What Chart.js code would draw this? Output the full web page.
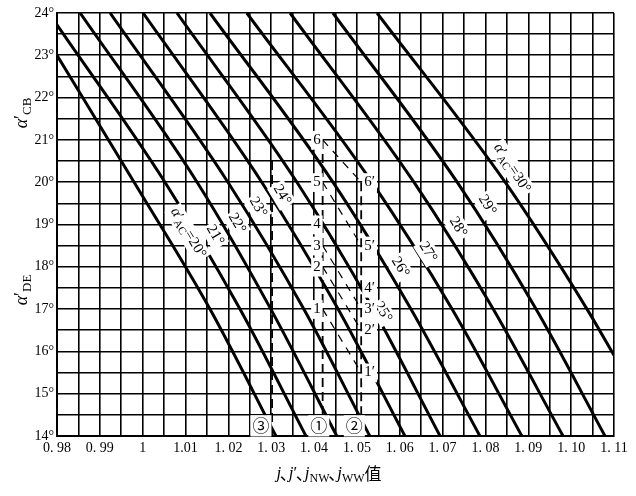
<!DOCTYPE html>
<html lang="zh">
<head>
<meta charset="UTF-8">
<title>α′CB, α′DE — j</title>
<script src="https://cdn.jsdelivr.net/npm/chart.js@4.4.0/dist/chart.umd.min.js"></script>
<style>
  html, body { margin: 0; padding: 0; background: #fff; }
</style>
</head>
<body>
<canvas id="chart" width="636" height="496"></canvas>
<script>
// ---- axes ----
const xTicks = [0.98, 0.99, 1.00, 1.01, 1.02, 1.03, 1.04, 1.05, 1.06, 1.07, 1.08, 1.09, 1.10, 1.11];
const xTickLabels = ['0. 98', '0. 99', '1', '1.01', '1. 02', '1. 03', '1. 04', '1. 05', '1. 06', '1. 07', '1. 08', '1. 09', '1. 10', '1. 11'];
const yTicks = [14, 15, 16, 17, 18, 19, 20, 21, 22, 23, 24];
const xGridStep = 0.005;
const yGridStep = 0.5;

// ---- alpha'AC curves, read at: entry (top / left edge), 20°, 17°, exit (bottom / right edge) ----
const alphaAC  = [20, 21, 22, 23, 24, 25, 26, 27, 28, 29, 30];
const startJ   = [0.98, 0.98, 0.9854, 0.9924, 1.0001, 1.0080, 1.0157, 1.0243, 1.0344, 1.0444, 1.0547];
const startDeg = [23.0, 23.72, 24, 24, 24, 24, 24, 24, 24, 24, 24];
const j20deg   = [0.9980, 1.0052, 1.0127, 1.0199, 1.0278, 1.0360, 1.0444, 1.0535, 1.0633, 1.0734, 1.0846];
const j17deg   = [1.0157, 1.0227, 1.0299, 1.0376, 1.0456, 1.0538, 1.0626, 1.0722, 1.0818, 1.0918, 1.1037];
const endJ     = [1.0311, 1.0381, 1.0453, 1.0530, 1.0612, 1.0694, 1.0787, 1.0885, 1.0981, 1.1079, 1.11];
const endDeg   = [14, 14, 14, 14, 14, 14, 14, 14, 14, 14, 15.91];
// where each curve's label sits
const labelJ   = [1.0106, 1.0169, 1.0220, 1.0269, 1.0325, 1.0561, 1.0601, 1.0666, 1.0736, 1.0804, 1.0862];
const labelDeg = [18.80, 18.75, 19.03, 19.41, 19.70, 16.93, 17.99, 18.35, 18.94, 19.46, 20.33];

// ---- worked cases (dashed) ----
const caseMarks = ['①', '②', '③'];
const caseJ     = [1.042, 1.051, 1.0302];
const caseTop   = [21, 20, 20.5];
const caseMarkJ = [1.0411, 1.0494, 1.0276];
const caseMarkDeg = 14.25;
// points 1..6 on case ①, 1'..6' on case ②
const pointNames  = ['1', '2', '3', '4', '5', '6'];
const pointsCase1 = [17, 18, 18.5, 19, 20, 21];
const pointsCase2 = [15.5, 16.5, 17, 17.5, 18.5, 20];

const SERIF = '"Liberation Serif", "DejaVu Serif", serif';
const CJK = '"Noto Sans CJK SC", sans-serif';

// grid positions every 0.005 / 0.5 degree
const xGrid = [];
for (let v = 0; v <= Math.round((1.11 - 0.98) / xGridStep); v++) xGrid.push(+(0.98 + v * xGridStep).toFixed(3));
const yGrid = [];
for (let v = 0; v <= (24 - 14) / yGridStep; v++) yGrid.push(14 + v * yGridStep);

// ---- datasets ----
const datasets = [];
alphaAC.forEach((a, i) => {
    datasets.push({
        label: "α'AC=" + a,
        data: [
            { x: startJ[i], y: startDeg[i] },
            { x: j20deg[i], y: 20 },
            { x: j17deg[i], y: 17 },
            { x: endJ[i], y: endDeg[i] }
        ],
        borderColor: '#000', borderWidth: 3, showLine: true, pointRadius: 0,
        cubicInterpolationMode: 'monotone'
    });
});
caseJ.forEach((j, i) => {
    datasets.push({
        label: 'case ' + caseMarks[i],
        data: [{ x: j, y: caseTop[i] }, { x: j, y: 14 }],
        borderColor: '#000', borderWidth: 1.8, borderDash: [9, 5], showLine: true, pointRadius: 0
    });
});
pointsCase1.forEach((d, i) => {
    datasets.push({
        label: 'link ' + pointNames[i],
        data: [{ x: caseJ[0], y: d }, { x: caseJ[1], y: pointsCase2[i] }],
        borderColor: '#000', borderWidth: 1.2, borderDash: [8, 7], showLine: true, pointRadius: 0
    });
});

// text made of parts: [text, style]  style: '' normal, 'i' italic, 's' subscript, 'c' CJK, 'p' narrow CJK comma
function fontFor(st, size) {
    if (st === 's') return Math.round(size * 0.72) + 'px ' + SERIF;
    if (st === 'i') return 'italic ' + size + 'px ' + SERIF;
    if (st === 'c' || st === 'p') return size + 'px ' + CJK;
    return size + 'px ' + SERIF;
}
function advance(ctx, t, st, size) {
    if (st === 'p') return size * 0.45;
    return ctx.measureText(t).width;
}
function richWidth(ctx, parts, size) {
    let w = 0;
    parts.forEach(([t, st]) => {
        ctx.font = fontFor(st, size);
        w += advance(ctx, t, st, size);
    });
    return w;
}
function drawRich(ctx, parts, x, y, size, align, bg) {
    const w = richWidth(ctx, parts, size);
    let cx = align === 'left' ? x : align === 'right' ? x - w : x - w / 2;
    if (bg) {
        ctx.fillStyle = '#fff';
        ctx.fillRect(cx - 2, y - size * 0.6, w + 4, size * 1.25);
    }
    ctx.fillStyle = '#000';
    ctx.textBaseline = 'middle';
    ctx.textAlign = 'left';
    parts.forEach(([t, st]) => {
        ctx.font = fontFor(st, size);
        const dy = st === 's' ? size * 0.3 : 0;
        const dx = st === 'p' ? -size * 0.08 : 0;
        ctx.fillText(t, cx + dx, y + dy);
        cx += advance(ctx, t, st, size);
    });
}

const labelPlugin = {
    id: 'labels',
    afterDatasetsDraw(chart) {
        const ctx = chart.ctx;
        const xs = chart.scales.x, ys = chart.scales.y;
        ctx.save();
        // curve labels, rotated along the middle part of each curve
        alphaAC.forEach((a, i) => {
            const ang = Math.atan2(ys.getPixelForValue(17) - ys.getPixelForValue(20),
                                   xs.getPixelForValue(j17deg[i]) - xs.getPixelForValue(j20deg[i]));
            const parts = (i === 0 || i === alphaAC.length - 1)
                ? [['α', 'i'], ['′', ''], ['AC', 's'], ['=' + a + '°', '']]
                : [[a + '°', '']];
            ctx.save();
            ctx.translate(xs.getPixelForValue(labelJ[i]), ys.getPixelForValue(labelDeg[i]));
            ctx.rotate(ang);
            drawRich(ctx, parts, 0, 0, 15, 'center', true);
            ctx.restore();
        });
        // point numbers
        pointsCase1.forEach((d, i) => {
            drawRich(ctx, [[pointNames[i], '']], xs.getPixelForValue(caseJ[0]) - 2, ys.getPixelForValue(d), 15, 'right', true);
        });
        pointsCase2.forEach((d, i) => {
            drawRich(ctx, [[pointNames[i] + '′', '']], xs.getPixelForValue(caseJ[1]) + 3, ys.getPixelForValue(d), 15, 'left', true);
        });
        // circled case marks at the bottom
        caseMarks.forEach((m, i) => {
            drawRich(ctx, [[m, 'c']], xs.getPixelForValue(caseMarkJ[i]), ys.getPixelForValue(caseMarkDeg), 17, 'center', true);
        });
        // axis titles
        ctx.save();
        ctx.translate(22, 113);
        ctx.rotate(-Math.PI / 2);
        drawRich(ctx, [['α', 'i'], ['′', ''], ['CB', 's']], 0, 0, 18, 'center', false);
        ctx.restore();
        ctx.save();
        ctx.translate(22, 290);
        ctx.rotate(-Math.PI / 2);
        drawRich(ctx, [['α', 'i'], ['′', ''], ['DE', 's']], 0, 0, 18, 'center', false);
        ctx.restore();
        drawRich(ctx, [['j', 'i'], ['、', 'p'], ['j', 'i'], ['′', ''], ['、', 'p'], ['j', 'i'], ['NW', 's'],
                       ['、', 'p'], ['j', 'i'], ['WW', 's'], ['值', 'c']], 329, 474, 17, 'center', false);
        ctx.restore();
    }
};

new Chart(document.getElementById('chart').getContext('2d'), {
    type: 'scatter',
    data: { datasets: datasets },
    options: {
        responsive: false,
        animation: false,
        layout: { padding: { top: 13, right: 22, bottom: 0, left: 0 } },
        plugins: { legend: { display: false }, tooltip: { enabled: false } },
        scales: {
            x: {
                type: 'linear', min: 0.98, max: 1.11,
                afterBuildTicks: s => { s.ticks = xGrid.map(v => ({ value: v })); },
                afterFit: s => { s.height = 60; },
                ticks: {
                    autoSkip: false, maxRotation: 0, padding: 4, color: '#000',
                    font: { family: SERIF, size: 14 },
                    callback: v => {
                        const i = xTicks.findIndex(t => Math.abs(t - v) < 1e-6);
                        return i >= 0 ? xTickLabels[i] : '';
                    }
                },
                grid: { color: '#000', lineWidth: 1.6, drawTicks: false },
                border: { color: '#000', width: 2 }
            },
            y: {
                type: 'linear', min: 14, max: 24,
                afterBuildTicks: s => { s.ticks = yGrid.map(v => ({ value: v })); },
                afterFit: s => { s.width = 57; },
                ticks: {
                    autoSkip: false, padding: 3, color: '#000',
                    font: { family: SERIF, size: 14 },
                    callback: v => yTicks.includes(v) ? v + '°' : ''
                },
                grid: { color: '#000', lineWidth: 1.6, drawTicks: false },
                border: { color: '#000', width: 2 }
            }
        }
    },
    plugins: [labelPlugin]
});
</script>
</body>
</html>
